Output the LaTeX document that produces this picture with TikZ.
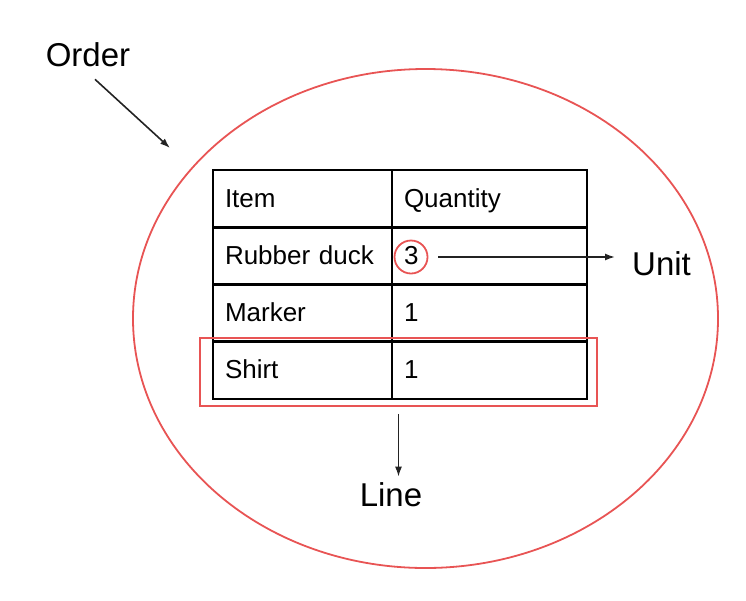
\documentclass[tikz,border=0pt]{standalone}
\usepackage{fontspec}
\setmainfont{Liberation Sans}
\usetikzlibrary{shapes.geometric, arrows.meta}
\definecolor{markred}{RGB}{232,84,84}
\definecolor{arrowgray}{RGB}{35,35,35}
\begin{document}
\begin{tikzpicture}[
    x=1pt, y=-1pt,
    cell/.style={rectangle, draw, line width=2.6pt, minimum height=57.25pt, inner xsep=12pt, align=left, text height=18pt, text depth=1pt, font=\fontsize{26}{30}\selectfont},
    itemcell/.style={cell, text width=155pt},
    qtycell/.style={cell, text width=171pt},
    redmark/.style={draw=markred, line width=1.8pt},
    tag/.style={inner sep=0pt, font=\fontsize{33}{38}\selectfont},
    arr/.style={-{Latex[length=10pt, width=7pt]}, line width=1.6pt, arrowgray}
]
    \useasboundingbox (0,0) rectangle (746,600);

    \node[redmark, ellipse, minimum width=585pt, minimum height=499pt] (order) at (425.5,318.5) {};

    \node[itemcell] (i0) at (302.5,198.6) {Item};
    \node[qtycell] (q0) at (489.5,198.6) {Quantity};
    \node[itemcell] (i1) at (302.5,255.9) {Rubber duck};
    \node[qtycell] (q1) at (489.5,255.9) {3};
    \node[itemcell] (i2) at (302.5,313.1) {Marker};
    \node[qtycell] (q2) at (489.5,313.1) {1};
    \node[itemcell] (i3) at (302.5,370.4) {Shirt};
    \node[qtycell] (q3) at (489.5,370.4) {1};

    \node[redmark, circle, minimum size=33pt, inner sep=0pt] (unitring) at (411,257) {};
    \node[redmark, rectangle, minimum width=397pt, minimum height=68pt] (shirtrow) at (398.5,372) {};

    \node[tag] (orderlbl) at (88,55) {Order};
    \node[tag, anchor=west] (unitlbl) at (632,264) {Unit};
    \node[tag] (linelbl) at (391,495) {Line};

    \coordinate (ordertip) at (170,148);
    \draw[arr] (orderlbl.south) ++(7,12) -- (ordertip);
    \draw[arr, shorten <=10pt, shorten >=17pt] (unitring) -- (unitring -| unitlbl.west);
    \draw[arr, shorten <=7pt, shorten >=6pt] (shirtrow.south) -- (shirtrow.south |- linelbl.north);
\end{tikzpicture}
\end{document}
